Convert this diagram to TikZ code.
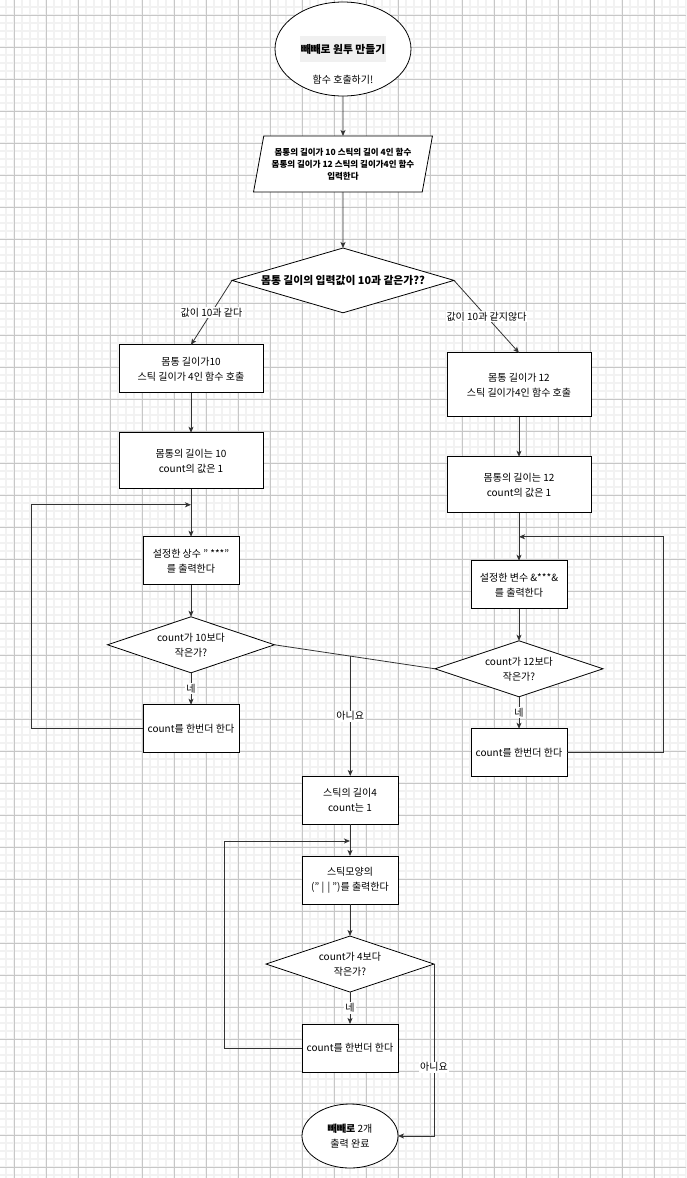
\documentclass[tikz,border=0pt]{standalone}
\usepackage{fontspec}
\setmainfont{Noto Sans CJK KR}
\usetikzlibrary{shapes.geometric,arrows.meta,positioning,calc}

\begin{document}
\begin{tikzpicture}[x=1pt, y=-1pt, node distance=32pt,
  font=\fontsize{10}{15}\selectfont,
  terminal/.style={draw, ellipse, line width=0.8pt, inner sep=0pt, outer sep=0pt, align=center},
  process/.style={draw, rectangle, line width=0.8pt, minimum width=96pt, minimum height=48pt, inner sep=0pt, outer sep=0pt, align=center},
  wide/.style={process, minimum width=144pt},
  io/.style={draw, trapezium, trapezium left angle=74, trapezium right angle=106, trapezium stretches=true, line width=0.8pt, minimum width=179pt, minimum height=56pt, inner sep=0pt, outer sep=0pt, align=center, font=\fontsize{8.5}{12}\selectfont\bfseries},
  decision/.style={draw, diamond, aspect=3, line width=0.8pt, minimum width=168pt, minimum height=56pt, inner sep=0pt, outer sep=0pt, align=center},
  flow/.style={draw=black!80, line width=0.8pt, -{Stealth[length=6pt, width=5pt, inset=1.5pt]}},
  link/.style={draw=black!80, line width=0.8pt},
  tag/.style={fill=white, inner sep=1pt}]

\useasboundingbox (0,0) rectangle (686,1178);

% Background grid
\begin{scope}
\clip (0,0) rectangle (686,1178);
\draw[black!5, line width=1.5pt, step=8pt, shift={(14,15)}] (-16,-16) grid (680,1170);
\draw[black!22, line width=0.7pt, step=32pt, shift={(14,15)}] (-16,-16) grid (680,1170);
\end{scope}

% Start and input
\node[terminal, minimum width=136pt, minimum height=94pt, fill=white] (start) at (343,49) {};
\node[fill=black!6, inner xsep=1pt, minimum height=26pt, font=\fontsize{10.8}{15}\selectfont\bfseries] (title) at (start.center) {빼빼로 원투 만들기};
\node (call) at ([yshift=-31pt]start.center) {함수 호출하기!};
\node[io, fill=white, below=40pt of start] (input) {몸통의 길이가 10 스틱의 길이 4인 함수\\몸통의 길이가 12 스틱의 길이가4인 함수\\입력한다};

% First decision
\node[decision, fill=white, minimum width=222pt, minimum height=64pt, font=\fontsize{10.8}{15}\selectfont\bfseries, below=56pt of input] (cond) {몸통 길이의 입력값이 10과 같은가??};

% Body 10 column
\node[wide, fill=white, below=32pt of cond, xshift=-152pt] (body10) {몸통 길이가10\\스틱 길이가 4인 함수 호출};
\node[wide, fill=white, minimum height=56pt, below=40pt of body10] (len10) {몸통의 길이는 10\\count의 값은 1};
\node[process, fill=white, below=48pt of len10] (star10) {설정한 상수 " ***"\\를 출력한다};
\node[decision, fill=white, minimum width=167pt, below=32pt of star10] (chk10) {count가 10보다\\작은가?};
\node[process, fill=white, below=32pt of chk10] (cnt10) {count를 한번더 한다};

% Body 12 column
\node[wide, fill=white, minimum height=64pt, below=40pt of cond, xshift=176pt] (body12) {몸통 길이가 12\\스틱 길이가4인 함수 호출};
\node[wide, fill=white, minimum height=56pt, below=40pt of body12] (len12) {몸통의 길이는 12\\count의 값은 1};
\node[process, fill=white, below=48pt of len12] (amp12) {설정한 변수 \&***\&\\를 출력한다};
\node[decision, fill=white, below=32pt of amp12] (chk12) {count가 12보다\\작은가?};
\node[process, fill=white, below=32pt of chk12] (cnt12) {count를 한번더 한다};

% Stick column
\node[process, fill=white] (stick) at (350,800) {스틱의 길이4\\count는 1};
\node[process, fill=white, below=32pt of stick] (shape) {스틱모양의\\(" |\,\,| ")를 출력한다};
\node[decision, fill=white, below=32pt of shape] (chk4) {count가 4보다\\작은가?};
\node[process, fill=white, below=32pt of chk4] (cnt4) {count를 한번더 한다};
\node[terminal, fill=white, minimum width=96pt, minimum height=64pt, below=32pt of cnt4] (end) {{\bfseries 빼빼로} 2개\\출력 완료};

% Joints
\coordinate (join10) at ([yshift=-16pt]len10.south);
\coordinate (join12) at ([yshift=-24pt]len12.south);
\coordinate (join4) at ([yshift=-17pt]stick.south);
\coordinate (noj) at ($(chk10.east)!0.472!(chk12.west)$);

% Arrows
\draw[flow] (start) -- (input);
\draw[flow] (input) -- (cond);
\draw[flow] (cond.west) -- (body10.north) node[midway, tag] {값이 10과 같다};
\draw[flow] (cond.east) -- (body12.north) node[midway, tag] {값이 10과 같지않다};
\draw[flow] (body10) -- (len10);
\draw[flow] (body12) -- (len12);
\draw[flow] (len10) -- (star10);
\draw[flow] (len12) -- (amp12);
\draw[flow] (star10) -- (chk10);
\draw[flow] (amp12) -- (chk12);
\draw[flow] (chk10) -- (cnt10) node[midway, tag] {네};
\draw[flow] (chk12) -- (cnt12) node[midway, tag] {네};
\draw[flow] (cnt10.west) -- ++(-112,0) |- (join10);
\draw[flow] (cnt12.east) -- ++(96,0) |- (join12);

% No branches
\draw[link] (chk10.east) -- (noj);
\draw[link] (chk12.west) -- (noj);
\draw[flow] (noj) -- (noj |- stick.north) node[midway, tag] {아니요};

% Stick loop
\draw[flow] (stick) -- (shape);
\draw[flow] (shape) -- (chk4);
\draw[flow] (chk4) -- (cnt4) node[midway, tag] {네};
\draw[flow] (cnt4.west) -- ++(-78,0) |- (join4);
\draw[flow] (chk4.east) |- (end.east) node[pos=0.3, tag] {아니요};
\end{tikzpicture}
\end{document}
